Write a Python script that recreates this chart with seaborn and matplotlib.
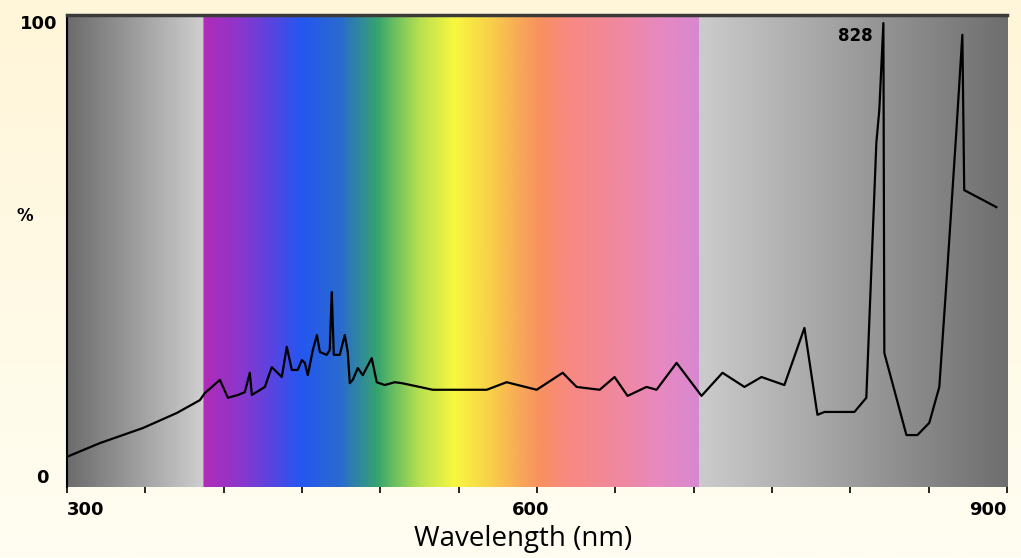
import numpy as np
import matplotlib.pyplot as plt
import matplotlib.colors as mcolors
import seaborn as sns

# Spectrum trace (wavelength nm, relative %)
wavelength = [300.0, 321.0, 348.5, 370.2, 384.8, 388.0, 397.6, 402.7, 409.1, 413.5,
              416.7, 418.0, 426.3, 430.7, 437.1, 440.3, 443.5, 447.3, 449.9, 451.8,
              453.7, 456.9, 459.5, 461.4, 465.8, 467.7, 469.0, 470.3, 474.1, 477.3,
              479.2, 480.5, 482.4, 485.6, 488.8, 494.5, 497.7, 502.8, 509.2, 513.7,
              525.1, 533.4, 567.9, 580.6, 599.8, 616.4, 625.3, 640.0, 649.5, 657.8,
              669.9, 676.3, 689.1, 705.0, 718.4, 732.4, 743.3, 757.9, 770.7, 779.0,
              783.5, 802.6, 810.2, 816.6, 818.5, 821.1, 821.7, 835.8, 842.8, 850.4,
              856.8, 861.9, 867.6, 871.5, 872.7, 893.2]
percent = [6.4, 9.3, 12.5, 15.7, 18.4, 19.9, 22.7, 18.9, 19.5, 20.1,
           24.2, 19.5, 21.2, 25.4, 23.3, 29.7, 24.8, 24.8, 26.9, 26.3,
           23.7, 29.0, 32.2, 28.6, 28.0, 29.0, 41.3, 28.0, 28.0, 32.2,
           28.6, 22.0, 22.7, 25.2, 23.7, 27.3, 22.2, 21.6, 22.2, 22.0,
           21.2, 20.6, 20.6, 22.2, 20.6, 24.2, 21.2, 20.6, 23.3, 19.3,
           21.2, 20.6, 26.3, 19.3, 24.2, 21.2, 23.3, 21.6, 33.7, 15.3,
           15.9, 15.9, 18.9, 72.9, 79.9, 98.3, 28.4, 11.0, 11.0, 13.6,
           21.2, 46.0, 75.0, 95.8, 62.9, 59.3]

x_ticks = list(range(300, 901, 50))
x_labels = {300: "300", 600: "600", 900: "900"}
peak_label = "828"

# background band colour stops (nm, colour)
band_stops = [(300, "#6b6b6b"), (386.9, "#cfcfcf"),
              (387, "#b22cb8"), (410, "#8c36cc"), (430, "#5a44e0"), (449, "#2457f0"),
              (474, "#2a6ad0"), (498, "#36a46e"), (509, "#6cc060"), (525, "#b8e050"),
              (547, "#f8f840"), (570, "#f8d048"), (589, "#f8a858"), (602, "#f89060"),
              (618, "#f88a80"), (653, "#f088a0"), (678, "#e888c0"), (702.9, "#d888d0"),
              (703, "#cccccc"), (900, "#6e6e6e")]

fig = plt.figure(figsize=(10.21, 5.58), dpi=100)

# cream page background, slightly lighter towards the bottom
bg = fig.add_axes([0, 0, 1, 1], zorder=-5)
top_c = np.array(mcolors.to_rgb("#fff5d8"))
bot_c = np.array(mcolors.to_rgb("#fffef2"))
t = np.linspace(0, 1, 200)[:, None]
bg.imshow((top_c * (1 - t) + bot_c * t)[:, None, :], aspect="auto", extent=[0, 1, 0, 1])
bg.axis("off")

ax = fig.add_axes([67 / 1021, (558 - 487) / 558, (1007 - 67) / 1021, (487 - 15) / 558])

# colour band behind the trace
grid = np.linspace(300, 900, 1200)
stop_x = [s[0] for s in band_stops]
stop_rgb = np.array([mcolors.to_rgb(s[1]) for s in band_stops])
rgb = np.stack([np.interp(grid, stop_x, stop_rgb[:, k]) for k in range(3)], axis=-1)
ax.imshow(rgb[None, :, :], aspect="auto", extent=[300, 900, 0, 100], zorder=0)

sns.lineplot(x=wavelength, y=percent, ax=ax, color="black", linewidth=1.6,
             sort=False, estimator=None, zorder=3)

ax.text(814.5, 95.5, peak_label, fontsize=12, fontweight="bold", ha="right", va="center")

ax.set_xlim(300, 900)
ax.set_ylim(0, 100)
ax.set_xticks(x_ticks)
ax.set_xticklabels([""] * len(x_ticks))
ax.tick_params(axis="x", direction="out", length=4, width=1.2, color="black")
ax.set_yticks([])
for v, lab in x_labels.items():
    ha = "left" if v == 300 else ("right" if v == 900 else "center")
    xpos = v - 4 if v == 600 else v
    ax.text(xpos, -3, lab, fontsize=13, fontweight="bold", ha=ha, va="top")

ax.text(-0.01, 1.0, "100", transform=ax.transAxes, fontsize=13, fontweight="bold",
        ha="right", va="top")
ax.text(-0.02, 0.0, "0", transform=ax.transAxes, fontsize=13, fontweight="bold",
        ha="right", va="bottom")
ax.text(-0.045, 0.575, "%", transform=ax.transAxes, fontsize=12, fontweight="bold",
        ha="center", va="center")

ax.set_xlabel("Wavelength (nm)", fontsize=20, family=["Open Sans", "DejaVu Sans"])
ax.xaxis.set_label_coords(0.485, -0.08)

for side in ["right", "bottom"]:
    ax.spines[side].set_visible(False)
ax.spines["left"].set_color("black")
ax.spines["left"].set_linewidth(1.5)
ax.spines["top"].set_color("#3a3a3a")
ax.spines["top"].set_linewidth(2.5)

fig.savefig("out.png", dpi=100)
